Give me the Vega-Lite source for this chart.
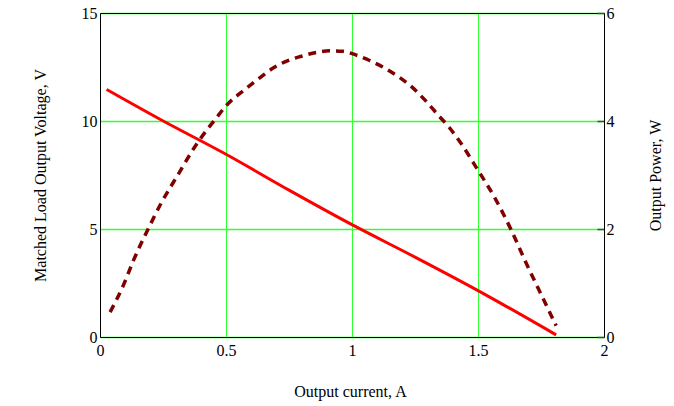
{
  "$schema": "https://vega.github.io/schema/vega-lite/v6.json",
  "width": 504,
  "height": 324,
  "autosize": "none",
  "padding": {"left": 100, "top": 13, "right": 70, "bottom": 69},
  "background": "#ffffff",
  "config": {
    "view": {"stroke": null},
    "font": "Liberation Serif",
    "axis": {
      "labelFont": "Liberation Serif",
      "titleFont": "Liberation Serif",
      "labelFontSize": 16,
      "titleFontSize": 16,
      "titleFontWeight": "normal",
      "labelColor": "#000000",
      "titleColor": "#000000",
      "domain": true,
      "domainColor": "#000000",
      "domainWidth": 1,
      "ticks": false,
      "grid": false,
      "gridColor": "#33ff33",
      "gridOpacity": 1,
      "gridWidth": 1,
      "labelFlush": false,
      "labelOverlap": false
    }
  },
  "layer": [
    {
      "data": {
        "values": [
          {"I": 0.026, "V": 11.46},
          {"I": 0.238, "V": 10.08},
          {"I": 0.5, "V": 8.46},
          {"I": 0.75, "V": 6.8},
          {"I": 1.0, "V": 5.2},
          {"I": 1.25, "V": 3.7},
          {"I": 1.5, "V": 2.15},
          {"I": 1.81, "V": 0.1}
        ]
      },
      "mark": {"type": "line", "color": "#ff0000", "strokeWidth": 3, "interpolate": "monotone"},
      "encoding": {
        "x": {
          "field": "I",
          "type": "quantitative",
          "scale": {"domain": [0, 2]},
          "axis": {
            "values": [0, 0.5, 1, 1.5, 2],
            "format": ".1~f",
            "grid": true,
            "gridColor": "#33ff33",
            "title": "Output current, A",
            "labelPadding": 5,
            "titleX": 250,
            "titleY": 59,
            "titleBaseline": "alphabetic",
            "titleAlign": "center"
          }
        },
        "y": {
          "field": "V",
          "type": "quantitative",
          "scale": {"domain": [0, 15]},
          "axis": {
            "values": [0, 5, 10, 15],
            "format": "d",
            "grid": true,
            "gridColor": "#33ff33",
            "gridWidth": 1.5,
            "title": "Matched Load Output Voltage, V",
            "labelPadding": 3,
            "titleAngle": -90,
            "titleX": -55,
            "titleY": 162,
            "titleBaseline": "alphabetic",
            "titleAlign": "center"
          }
        }
      }
    },
    {
      "data": {
        "values": [
          {"I": 0.04, "P": 0.46},
          {"I": 0.092, "P": 0.95},
          {"I": 0.132, "P": 1.41},
          {"I": 0.191, "P": 2.0},
          {"I": 0.244, "P": 2.49},
          {"I": 0.31, "P": 3.01},
          {"I": 0.383, "P": 3.57},
          {"I": 0.462, "P": 4.06},
          {"I": 0.5, "P": 4.28},
          {"I": 0.574, "P": 4.58},
          {"I": 0.634, "P": 4.8},
          {"I": 0.687, "P": 4.98},
          {"I": 0.746, "P": 5.12},
          {"I": 0.8, "P": 5.2},
          {"I": 0.858, "P": 5.27},
          {"I": 0.911, "P": 5.3},
          {"I": 0.964, "P": 5.29},
          {"I": 1.017, "P": 5.22},
          {"I": 1.07, "P": 5.12},
          {"I": 1.122, "P": 5.0},
          {"I": 1.181, "P": 4.83},
          {"I": 1.235, "P": 4.64},
          {"I": 1.287, "P": 4.4},
          {"I": 1.34, "P": 4.12},
          {"I": 1.386, "P": 3.88},
          {"I": 1.426, "P": 3.63},
          {"I": 1.497, "P": 3.11},
          {"I": 1.57, "P": 2.55},
          {"I": 1.63, "P": 2.0},
          {"I": 1.69, "P": 1.38},
          {"I": 1.743, "P": 0.86},
          {"I": 1.81, "P": 0.21}
        ]
      },
      "mark": {"type": "line", "color": "#800000", "strokeWidth": 3.5, "strokeDash": [8, 6], "interpolate": "monotone"},
      "encoding": {
        "x": {
          "field": "I",
          "type": "quantitative",
          "axis": {
            "orient": "top",
            "labels": false,
            "title": null,
            "grid": false,
            "values": [0, 2]
          }
        },
        "y": {
          "field": "P",
          "type": "quantitative",
          "scale": {"domain": [0, 6]},
          "axis": {
            "orient": "right",
            "values": [0, 2, 4, 6],
            "format": "d",
            "grid": false,
            "ticks": true,
            "tickSize": -7,
            "tickWidth": 1.5,
            "tickColor": "#444444",
            "labelPadding": 9,
            "title": "Output Power, W",
            "titleAngle": -90,
            "titleX": 56,
            "titleY": 162,
            "titleBaseline": "alphabetic",
            "titleAlign": "center"
          }
        }
      }
    }
  ],
  "resolve": {"scale": {"y": "independent"}, "axis": {"x": "independent", "y": "independent"}}
}
